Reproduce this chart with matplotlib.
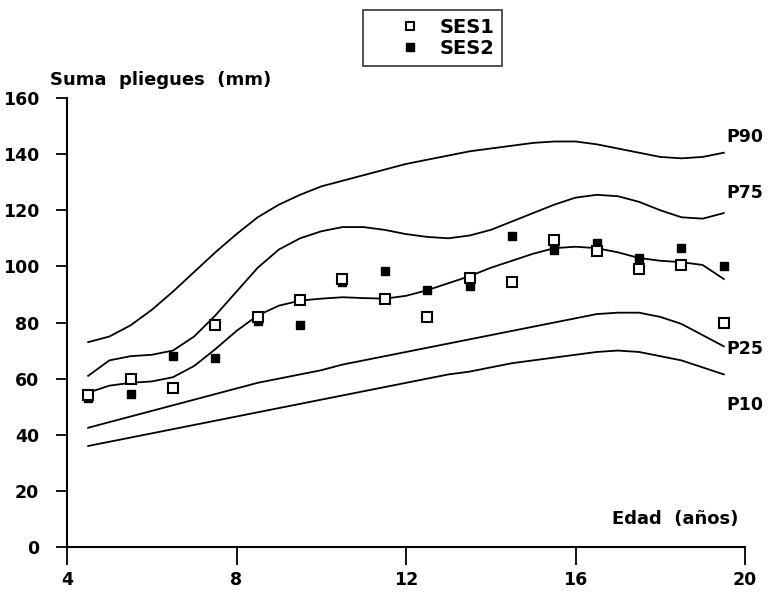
import numpy as np
import matplotlib
matplotlib.use("Agg")
from matplotlib import pyplot as plt

# Edad (años) y suma de pliegues (mm)
edad = [4.5, 5.5, 6.5, 7.5, 8.5, 9.5, 10.5, 11.5, 12.5, 13.5, 14.5, 15.5, 16.5, 17.5, 18.5, 19.5]
ses1 = [54, 60, 56.5, 79, 82, 88, 95.5, 88.5, 82, 96, 94.5, 109.5, 105.5, 99, 100.5, 80]
ses2 = [53, 54.5, 68, 67.5, 80.5, 79, 94.5, 98.5, 91.5, 93, 111, 106, 108.5, 103, 106.5, 100]

# percentiles, leídos cada medio año
edad_p = [4.5, 5.0, 5.5, 6.0, 6.5, 7.0, 7.5, 8.0, 8.5, 9.0, 9.5, 10.0, 10.5, 11.0, 11.5, 12.0,
          12.5, 13.0, 13.5, 14.0, 14.5, 15.0, 15.5, 16.0, 16.5, 17.0, 17.5, 18.0, 18.5, 19.0, 19.5]
p90 = [73, 75, 79, 84.5, 91, 98, 105, 111.5, 117.5, 122, 125.5, 128.5, 130.5, 132.5, 134.5, 136.5,
       138, 139.5, 141, 142, 143, 144, 144.5, 144.5, 143.5, 142, 140.5, 139, 138.5, 139, 140.5]
p75 = [61, 66.5, 68, 68.5, 70, 75, 82.5, 91, 99.5, 106, 110, 112.5, 114, 114, 113, 111.5,
       110.5, 110, 111, 113, 116, 119, 122, 124.5, 125.5, 125, 123, 120, 117.5, 117, 119]
p50 = [55, 57.5, 58.5, 59, 60.5, 64.5, 70.5, 77, 82.5, 86, 87.8, 88.5, 89, 88.7, 88.5, 89.5,
       91.5, 94, 96.5, 99.5, 102, 104.5, 106.5, 107, 106.5, 105, 103, 102, 101.5, 100.5, 95.5]
p25 = [42.5, 44.5, 46.5, 48.5, 50.5, 52.5, 54.5, 56.5, 58.5, 60, 61.5, 63, 65, 66.5, 68, 69.5,
       71, 72.5, 74, 75.5, 77, 78.5, 80, 81.5, 83, 83.5, 83.5, 82, 79.5, 75.5, 71.5]
p10 = [36, 37.5, 39, 40.5, 42, 43.5, 45, 46.5, 48, 49.5, 51, 52.5, 54, 55.5, 57, 58.5,
       60, 61.5, 62.5, 64, 65.5, 66.5, 67.5, 68.5, 69.5, 70, 69.5, 68, 66.5, 64, 61.5]

etiquetas = {"P90": 146, "P75": 126, "P25": 70.5, "P10": 50.5}

plt.rcParams['font.family'] = ['DejaVu Sans']
plt.rcParams['font.weight'] = 'bold'

fig = plt.figure(figsize=(7.68, 5.92), dpi=100)
ax = fig.add_axes([67/768, 45/592, (745-67)/768, (547-98)/592])

for curva in [p90, p75, p50, p25, p10]:
    ax.plot(edad_p, curva, color='black', lw=1.3)

ax.plot(edad, ses1, linestyle='none', marker='s', markersize=6.5, markerfacecolor='white',
        markeredgecolor='black', markeredgewidth=1.5, label='SES1', zorder=4)
ax.plot(edad, ses2, linestyle='none', marker='s', markersize=6, color='black',
        label='SES2', zorder=3)

for nombre, yv in etiquetas.items():
    ax.text(19.55, yv, nombre, fontsize=12.5, fontweight='bold', va='center', ha='left', clip_on=False)

ax.set_xlim(4, 20)
ax.set_ylim(0, 160)
ax.set_xticks([4, 8, 12, 16, 20])
ax.set_yticks(np.arange(0, 161, 20))
ax.spines['top'].set_visible(False)
ax.spines['right'].set_visible(False)
ax.spines['left'].set_linewidth(1.5)
ax.spines['bottom'].set_linewidth(1.5)
ax.tick_params(axis='y', direction='out', length=8, width=1.3, labelsize=12.5, pad=12)
ax.tick_params(axis='x', direction='out', length=13, width=1.3, labelsize=12.5, pad=4)
for lab in ax.get_xticklabels() + ax.get_yticklabels():
    lab.set_fontweight('bold')

fig.text(50/768, 1 - 80/592, 'Suma  pliegues  (mm)', fontsize=13, fontweight='bold', va='center', ha='left')
ax.text(19.85, 10, 'Edad  (años)', fontsize=13, fontweight='bold', va='center', ha='right')

leg = fig.legend(loc='upper left', bbox_to_anchor=(363/768, 1 - 10/592), frameon=True,
                 fancybox=False, edgecolor='black', fontsize=14, handlelength=4.0,
                 borderpad=0.4, handletextpad=-0.45, labelspacing=0.1, borderaxespad=0,
                 markerscale=0.9)
leg.get_frame().set_linewidth(1.2)
for t in leg.get_texts():
    t.set_fontweight('bold')

fig.savefig('out.png', dpi=100)
